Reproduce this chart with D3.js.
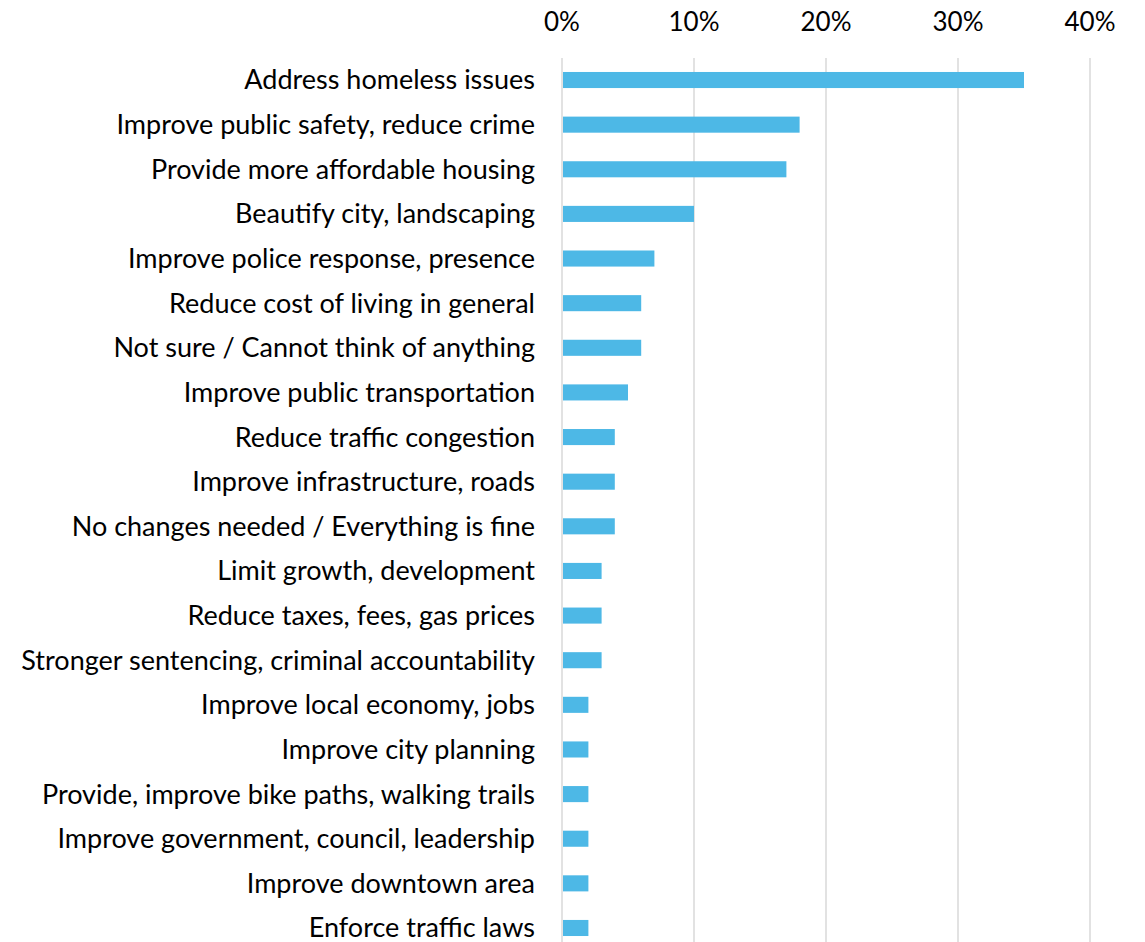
<!DOCTYPE html>
<html>
<head>
<meta charset="utf-8">
<script src="https://cdn.jsdelivr.net/npm/d3@7"></script>
<style>
body { margin: 0; background: #fff; }
text { font-family: "Lato", sans-serif; fill: #000; }
</style>
</head>
<body>
<script>
var categories = [
	"Address homeless issues",
	"Improve public safety, reduce crime",
	"Provide more affordable housing",
	"Beautify city, landscaping",
	"Improve police response, presence",
	"Reduce cost of living in general",
	"Not sure / Cannot think of anything",
	"Improve public transportation",
	"Reduce traffic congestion",
	"Improve infrastructure, roads",
	"No changes needed / Everything is fine",
	"Limit growth, development",
	"Reduce taxes, fees, gas prices",
	"Stronger sentencing, criminal accountability",
	"Improve local economy, jobs",
	"Improve city planning",
	"Provide, improve bike paths, walking trails",
	"Improve government, council, leadership",
	"Improve downtown area",
	"Enforce traffic laws"
];
var values = [0.35, 0.18, 0.17, 0.10, 0.07, 0.06, 0.06, 0.05, 0.04, 0.04, 0.04, 0.03, 0.03, 0.03, 0.02, 0.02, 0.02, 0.02, 0.02, 0.02];
var tickValues = [0, 0.1, 0.2, 0.3, 0.4];

var width = 1145, height = 942;

var svg = d3.select("body").append("svg")
	.attr("width", width)
	.attr("height", height);

var x = d3.scaleLinear().domain([0, 0.4]).range([562, 1090]);
var y = d3.scaleBand().domain(categories).range([57.7, 950.3])
	.paddingInner(0.64).paddingOuter(0.32);

// gridlines
svg.selectAll(".grid")
	.data(tickValues)
	.enter().append("line")
	.attr("x1", function(d) { return x(d); })
	.attr("x2", function(d) { return x(d); })
	.attr("y1", 58)
	.attr("y2", height)
	.attr("stroke", "#d9d9d9")
	.attr("stroke-width", 1.5);

// top axis labels
svg.selectAll(".tick-label")
	.data(tickValues)
	.enter().append("text")
	.attr("x", function(d) { return x(d); })
	.attr("y", 22)
	.attr("dy", "0.35em")
	.attr("text-anchor", "middle")
	.style("font-size", "26px")
	.text(d3.format(".0%"));

// bars
svg.selectAll(".bar")
	.data(values)
	.enter().append("rect")
	.attr("x", x(0) + 1)
	.attr("y", function(d, i) { return y(categories[i]); })
	.attr("width", function(d) { return x(d) - x(0) - 1; })
	.attr("height", y.bandwidth())
	.attr("fill", "#4db8e6");

// category labels
svg.selectAll(".cat")
	.data(categories)
	.enter().append("text")
	.attr("x", 535)
	.attr("y", function(d) { return y(d) + y.bandwidth() / 2; })
	.attr("dy", "0.35em")
	.attr("text-anchor", "end")
	.style("font-size", "27px")
	.text(function(d) { return d; });
</script>
</body>
</html>
